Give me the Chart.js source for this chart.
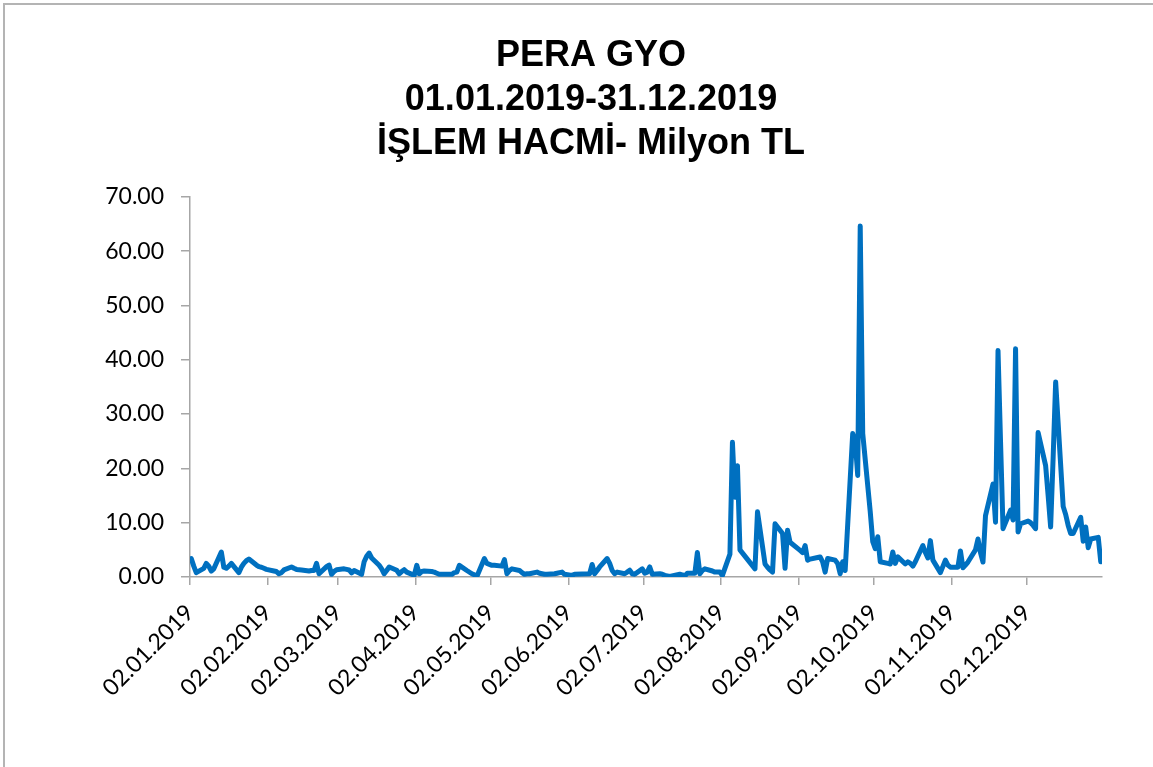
<!DOCTYPE html>
<html>
<head>
<meta charset="utf-8">
<title>PERA GYO İşlem Hacmi 2019</title>
<script src="https://cdn.jsdelivr.net/npm/chart.js@4.4.1/dist/chart.umd.min.js"></script>
<style>
  html, body { margin: 0; padding: 0; background: #fff; overflow: hidden; }
  #frame { position: absolute; left: 3px; top: 3px; width: 1200px; height: 800px;
           border-left: 2px solid #b4b4b4; border-top: 2px solid #b4b4b4; }
  #chart { position: absolute; left: 0; top: 0; }
</style>
</head>
<body>
<div id="frame"></div>
<canvas id="chart" width="1153" height="767"></canvas>
<script>
// Title and axis labels
const titleLines = ['PERA GYO', '01.01.2019-31.12.2019', 'İŞLEM HACMİ- Milyon TL'];
const tickLabels = ['02.01.2019', '02.02.2019', '02.03.2019', '02.04.2019', '02.05.2019', '02.06.2019',
                    '02.07.2019', '02.08.2019', '02.09.2019', '02.10.2019', '02.11.2019', '02.12.2019'];

// Borsa Istanbul closed days (weekdays) in 2019
const holidays = ['01.01', '23.04', '01.05', '05.06', '06.06', '07.06', '15.07',
                  '12.08', '13.08', '14.08', '30.08', '29.10'];

// Daily trading volume, million TL, one value per trading day of each month
const jan = [3.4, 2.0, 0.8, 1.6, 2.5, 2.0, 1.1, 1.5, 4.6, 1.8, 1.6, 2.0, 2.5, 0.8, 1.8, 2.5, 3.0, 3.3, 2.2, 1.9, 1.8, 1.6];
const feb = [1.4, 1.1, 1.0, 0.6, 0.8, 1.3, 1.85, 1.6, 1.4, 1.35, 1.3, 1.1, 1.2, 1.2, 2.5, 0.6, 1.9, 2.2, 0.5, 1.0];
const mar = [1.35, 1.5, 1.4, 1.3, 0.75, 1.2, 0.5, 2.8, 3.8, 4.4, 3.5, 2.15, 1.5, 0.6, 1.2, 1.85, 1.25, 0.6, 1.0, 1.35, 0.9];
const apr = [0.3, 2.15, 0.6, 1.0, 1.1, 1.0, 0.9, 0.7, 0.5, 0.5, 0.5, 0.5, 0.8, 0.9, 2.15, 1.2, 0.6, 0.4, 0.1, 3.4, 2.5];
const may = [2.15, 2.15, 2.0, 3.2, 0.6, 1.2, 1.5, 1.2, 0.8, 0.5, 0.6, 0.6, 0.9, 0.7, 0.6, 0.5, 0.5, 0.6, 0.7, 0.8, 0.9, 0.5];
const jun = [0.3, 0.5, 0.6, 2.3, 0.6, 1.2, 1.85, 3.4, 2.5, 1.2, 0.6, 0.9, 0.6, 0.9, 1.25, 0.6, 0.5];
const jul = [1.5, 0.7, 0.9, 1.85, 0.5, 0.6, 0.5, 0.3, 0.2, 0.1, 0.5, 0.4, 0.2, 0.7, 0.7, 4.5, 0.6, 1.2, 1.5, 1.1, 0.9, 0.9];
const aug = [0.9, 0.3, 4.2, 24.8, 14.7, 20.5, 5.0, 1.5, 12.0, 2.4, 1.8, 1.3, 0.9, 9.8, 8.0, 1.6, 8.6, 6.4];
const sep = [4.9, 4.5, 5.8, 3.1, 3.3, 3.6, 3.7, 2.8, 0.9, 3.4, 3.1, 2.5, 0.6, 2.8, 1.2, 26.4, 25.0, 18.7, 64.6, 26.4, 12.0];
const oct = [6.5, 5.2, 7.4, 2.8, 2.5, 2.4, 4.6, 2.5, 3.7, 2.4, 2.8, 2.5, 2.0, 2.8, 5.8, 4.5, 3.5, 6.7, 3.1, 0.8, 3.1, 2.2];
const nov = [1.8, 1.8, 4.8, 1.7, 2.2, 2.75, 5.0, 7.0, 4.5, 2.75, 11.3, 17.1, 10.1, 41.7, 25.0, 8.9, 12.3, 10.5, 42.0, 8.3, 9.8];
const dec = [10.3, 10.0, 9.5, 8.9, 26.6, 20.5, 15.0, 9.2, 22.0, 35.9, 13.0, 11.5, 9.5, 8.0, 8.0, 11.0, 6.6, 9.2, 5.4, 7.0, 7.3, 2.8];

const months = [jan, feb, mar, apr, may, jun, jul, aug, sep, oct, nov, dec];

const DAY = 86400000;
const start = Date.UTC(2019, 0, 2);

function pad(n) { return (n < 10 ? '0' : '') + n; }

// Pair each month's values with its trading days (weekdays that are not holidays)
function buildPoints() {
    const pts = [];
    months.forEach((vals, m) => {
        const days = [];
        for (let d = 1; d <= 31; d++) {
            const t = Date.UTC(2019, m, d);
            const dt = new Date(t);
            if (dt.getUTCMonth() !== m) break;
            const wd = dt.getUTCDay();
            if (wd === 0 || wd === 6) continue;
            if (holidays.includes(pad(d) + '.' + pad(m + 1))) continue;
            days.push((t - start) / DAY);
        }
        if (days.length !== vals.length) console.warn('month', m + 1, days.length, vals.length);
        vals.forEach((v, i) => {
            // Excel date axis puts each point in the middle of its day slot
            if (days[i] !== undefined) pts.push({ x: days[i] + 0.5, y: v });
        });
    });
    return pts;
}

// Tick positions come from the tick labels (dd.mm.yyyy)
const tickOffsets = tickLabels.map(s => {
    const [d, m, y] = s.split('.').map(Number);
    return (Date.UTC(y, m - 1, d) - start) / DAY;
});

const axisGray = '#a6a6a6';
const labelFont = { family: 'Lato, "Open Sans", sans-serif', size: 23 };

const ctx = document.getElementById('chart').getContext('2d');
new Chart(ctx, {
    type: 'line',
    data: {
        datasets: [{
            label: 'İşlem hacmi',
            data: buildPoints(),
            borderColor: '#0070C0',
            borderWidth: 5,
            borderJoinStyle: 'round',
            borderCapStyle: 'round',
            pointRadius: 0,
            tension: 0,
            fill: false
        }]
    },
    options: {
        responsive: false,
        animation: false,
        devicePixelRatio: 1,
        layout: { padding: { left: 80, right: 51, top: 0, bottom: 0 } },
        plugins: {
            legend: { display: false },
            tooltip: { enabled: false },
            title: {
                display: true,
                text: titleLines,
                color: '#000',
                font: { family: '"Liberation Sans", Arial, sans-serif', size: 36, weight: 'bold', lineHeight: 1.22 },
                padding: { top: 34, bottom: 31 }
            }
        },
        scales: {
            x: {
                type: 'linear',
                min: 0,
                max: 364,
                afterBuildTicks: scale => {
                    scale.ticks = tickOffsets.map(v => ({ value: v }));
                },
                afterFit: scale => { scale.height = 190; },
                ticks: {
                    autoSkip: false,
                    minRotation: 45,
                    maxRotation: 45,
                    padding: 14,
                    color: '#000',
                    font: labelFont,
                    callback: (value, index) => tickLabels[index]
                },
                grid: { drawOnChartArea: false, drawTicks: true, tickLength: 8, color: axisGray, lineWidth: 1.5 },
                border: { color: axisGray, width: 1.5 }
            },
            y: {
                min: 0,
                max: 70,
                afterFit: scale => { scale.width = 110; },
                ticks: {
                    stepSize: 10,
                    padding: 17,
                    color: '#000',
                    font: labelFont,
                    callback: v => v.toFixed(2)
                },
                grid: { drawOnChartArea: false, drawTicks: true, tickLength: 9, color: axisGray, lineWidth: 1.5 },
                border: { color: axisGray, width: 1.5 }
            }
        }
    }
});
</script>
</body>
</html>
